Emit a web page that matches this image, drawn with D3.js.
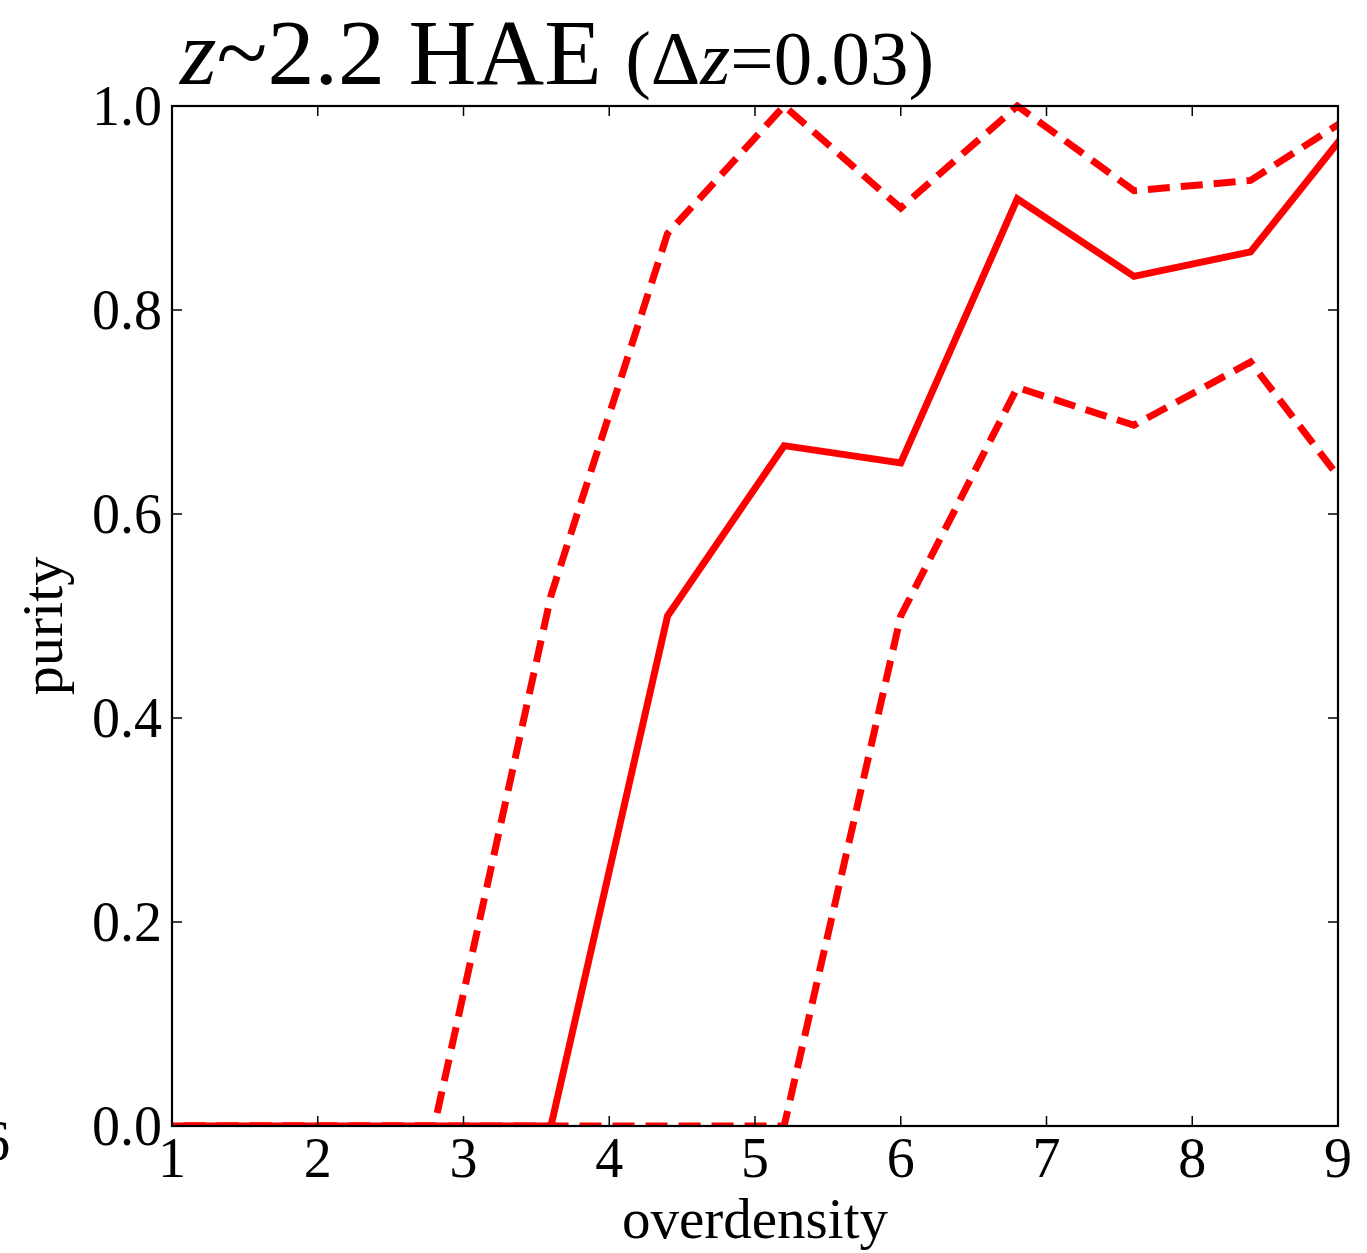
<!DOCTYPE html>
<html>
<head>
<meta charset="utf-8">
<script src="https://cdn.jsdelivr.net/npm/d3@7"></script>
<style>
  html, body { margin: 0; padding: 0; background: #fff; }
  svg { display: block; }
  text { font-family: "Liberation Serif", "DejaVu Serif", serif; fill: #000; }
</style>
</head>
<body>
<svg id="chart" width="1367" height="1253"></svg>
<script>
// overdensity bin centres
const overdensity = [0.4, 1.2, 2.0, 2.8, 3.6, 4.4, 5.2, 6.0, 6.8, 7.6, 8.4, 9.2];
// purity and its upper / lower bounds
const purity      = [0, 0, 0, 0, 0, 0.5, 0.667, 0.65, 0.909, 0.833, 0.857, 1.0];
const purityUpper = [0, 0, 0, 0, 0.52, 0.875, 1.0, 0.9, 1.0, 0.917, 0.927, 1.0];
const purityLower = [0, 0, 0, 0, 0, 0, 0, 0.5, 0.724, 0.687, 0.749, 0.6];
const xTicks = [1, 2, 3, 4, 5, 6, 7, 8, 9];
const yTicks = [0.0, 0.2, 0.4, 0.6, 0.8, 1.0];

const svg = d3.select("#chart");
const m = { left: 172, right: 1338, top: 106, bottom: 1126 };

const x = d3.scaleLinear().domain([1, 9]).range([m.left, m.right]);
const y = d3.scaleLinear().domain([0, 1]).range([m.bottom, m.top]);

svg.append("defs").append("clipPath").attr("id", "plotClip")
  .append("rect")
  .attr("x", m.left).attr("y", m.top - 4)
  .attr("width", m.right - m.left).attr("height", m.bottom - m.top + 4);

const line = d3.line().x(d => x(d[0])).y(d => y(d[1]));
const g = svg.append("g").attr("clip-path", "url(#plotClip)");

function series(vals, dash) {
  g.append("path")
    .datum(overdensity.map((o, i) => [o, vals[i]]))
    .attr("d", line)
    .attr("fill", "none")
    .attr("stroke", "#ff0000")
    .attr("stroke-width", 7)
    .attr("stroke-linejoin", "miter")
    .attr("stroke-dasharray", dash);
}
series(purityUpper, "22,11");
series(purityLower, "22,11");
series(purity, null);

// axes with inward ticks on all four sides
const tickLen = 10;
const axisG = svg.append("g").attr("stroke", "#000").attr("stroke-width", 1.5);
xTicks.forEach(t => {
  axisG.append("line").attr("x1", x(t)).attr("x2", x(t)).attr("y1", m.bottom).attr("y2", m.bottom - tickLen);
  axisG.append("line").attr("x1", x(t)).attr("x2", x(t)).attr("y1", m.top).attr("y2", m.top + tickLen);
});
yTicks.forEach(t => {
  axisG.append("line").attr("x1", m.left).attr("x2", m.left + tickLen).attr("y1", y(t)).attr("y2", y(t));
  axisG.append("line").attr("x1", m.right).attr("x2", m.right - tickLen).attr("y1", y(t)).attr("y2", y(t));
});
svg.append("rect")
  .attr("x", m.left).attr("y", m.top)
  .attr("width", m.right - m.left).attr("height", m.bottom - m.top)
  .attr("fill", "none").attr("stroke", "#000").attr("stroke-width", 2.2);

// tick labels
svg.append("g").selectAll("text").data(xTicks).join("text")
  .attr("x", d => x(d)).attr("y", 1177)
  .attr("text-anchor", "middle")
  .attr("font-size", 56)
  .text(d => d);
svg.append("g").selectAll("text").data(yTicks).join("text")
  .attr("x", 162).attr("y", d => y(d) + 19)
  .attr("text-anchor", "end")
  .attr("font-size", 56)
  .text(d => d.toFixed(1));

// label from the neighbouring panel, cut at the page edge
svg.append("text").attr("x", -18).attr("y", 1160).attr("font-size", 56).text("6");

// axis titles
svg.append("text")
  .attr("x", 755).attr("y", 1238)
  .attr("text-anchor", "middle").attr("font-size", 57)
  .text("overdensity");
svg.append("text")
  .attr("transform", "translate(62,626) rotate(-90)")
  .attr("text-anchor", "middle").attr("font-size", 58)
  .text("purity");

// title
const title = svg.append("text").attr("x", 180).attr("y", 84);
title.append("tspan").attr("font-size", 94).attr("font-style", "italic").text("z");
title.append("tspan").attr("font-size", 94).text("~2.2 HAE ");
title.append("tspan").attr("font-size", 77).text("(Δ");
title.append("tspan").attr("font-size", 77).attr("font-style", "italic").text("z");
title.append("tspan").attr("font-size", 77).text("=0.03)");
</script>
</body>
</html>
